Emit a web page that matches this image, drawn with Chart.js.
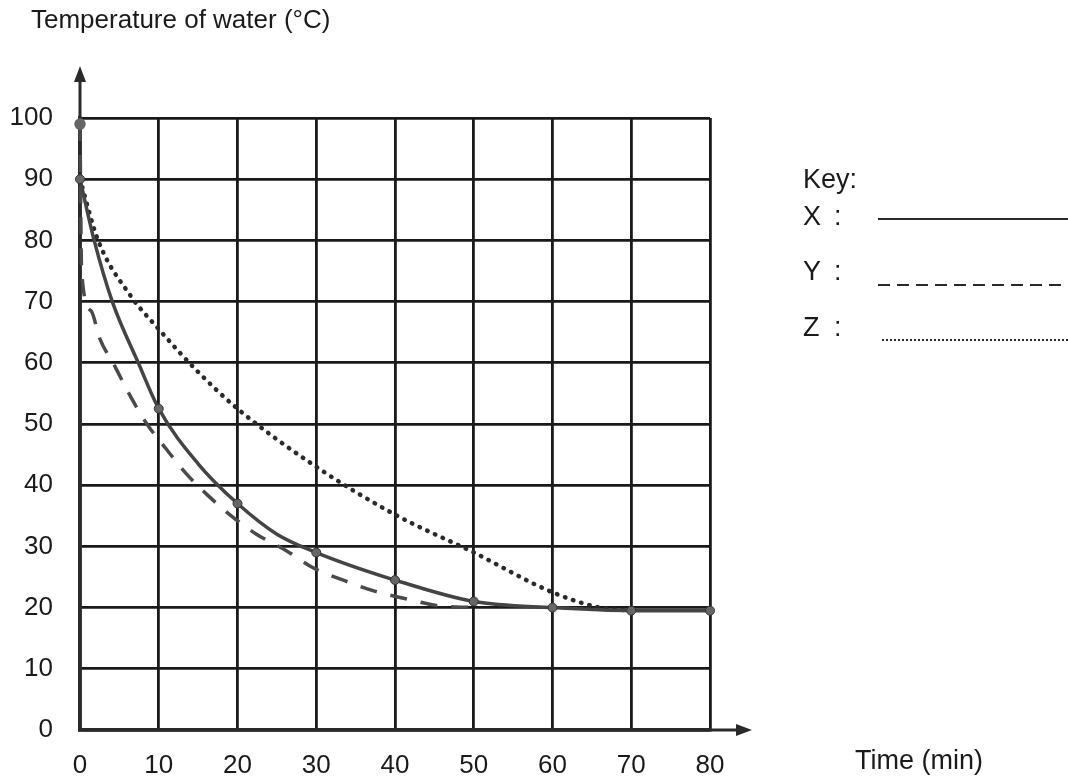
<!DOCTYPE html>
<html>
<head>
<meta charset="utf-8">
<script src="https://cdn.jsdelivr.net/npm/chart.js@4/dist/chart.umd.min.js"></script>
<style>
  body { margin: 0; background: #fff; }
  #wrap { width: 1068px; height: 781px; position: relative; }
</style>
</head>
<body>
<div id="wrap"><canvas id="graficoAgua"></canvas></div>
<script>
// time (min) and temperature (oC)
var tempoX = [0, 1.8, 4.1, 7.4, 10, 15, 20, 25, 30, 40, 50, 60, 70, 80]
var tempX = [90, 80, 70, 60, 52.5, 43.5, 37, 32, 29, 24.5, 21, 20, 19.5, 19.5]

var tempoY = [0, 0.2, 1.4, 2.5, 4.4, 6.2, 8.5, 10.9, 13.4, 16.1, 19.2, 22.4, 26.2, 29.6, 33.6, 37.4, 41.5, 45.5, 50]
var tempY = [99, 75, 68.5, 64, 59.5, 55, 50, 46, 42, 38.5, 35, 32, 29.3, 26.5, 24.4, 22.7, 21.4, 20.3, 20]

var tempoZ = [0, 2.3, 6.4, 10, 15, 20, 30, 40, 50, 60, 66, 70]
var tempZ = [90, 80, 71, 65.5, 58.5, 52.5, 43, 35.2, 29, 22.5, 20, 19.5]

var ticksTempo = [0, 10, 20, 30, 40, 50, 60, 70, 80]
var ticksTemp = [0, 10, 20, 30, 40, 50, 60, 70, 80, 90, 100]

var nomes = ['X', 'Y', 'Z']

var fonte = '"Liberation Sans", Arial, sans-serif'

function pontos(xs, ys) {
  return xs.map((x, i) => ({ x: x, y: ys[i] }))
}

// axis arrows, y caption, key and x caption
const extras = {
  id: 'extras',
  afterDraw(chart) {
    const ctx = chart.ctx
    const a = chart.chartArea
    ctx.save()
    ctx.strokeStyle = '#2a2a2a'
    ctx.fillStyle = '#2a2a2a'
    ctx.lineWidth = 3

    // y axis arrow
    ctx.beginPath()
    ctx.moveTo(a.left, a.top)
    ctx.lineTo(a.left, a.top - 40)
    ctx.stroke()
    ctx.beginPath()
    ctx.moveTo(a.left, a.top - 52)
    ctx.lineTo(a.left - 6, a.top - 36)
    ctx.lineTo(a.left + 6, a.top - 36)
    ctx.closePath()
    ctx.fill()

    // x axis arrow
    ctx.beginPath()
    ctx.moveTo(a.right, a.bottom)
    ctx.lineTo(a.right + 30, a.bottom)
    ctx.stroke()
    ctx.beginPath()
    ctx.moveTo(a.right + 42, a.bottom)
    ctx.lineTo(a.right + 26, a.bottom - 6)
    ctx.lineTo(a.right + 26, a.bottom + 6)
    ctx.closePath()
    ctx.fill()

    ctx.fillStyle = '#1a1a1a'
    ctx.textBaseline = 'middle'
    ctx.textAlign = 'left'
    ctx.font = '26px ' + fonte
    ctx.fillText('Temperature of water (\u00B0C)', 31, 21)
    ctx.font = '27px ' + fonte
    ctx.fillText('Time (min)', 855, 762)

    ctx.fillText('Key:', 803, 181)
    var linhasY = [219, 285, 340]
    var textoY = [218, 273, 329]
    chart.data.datasets.forEach((ds, i) => {
      ctx.fillStyle = '#1a1a1a'
      ctx.fillText(nomes[i], 803, textoY[i])
      ctx.fillText(':', 834, textoY[i])
      ctx.strokeStyle = '#2a2a2a'
      ctx.lineWidth = 2
      ctx.lineCap = 'butt'
      var dash = ds.borderDash || []
      if (i === 1) ctx.setLineDash([12, 7])
      else if (i === 2) ctx.setLineDash([2, 2])
      else ctx.setLineDash(dash)
      ctx.beginPath()
      ctx.moveTo(i === 2 ? 882 : 878, linhasY[i])
      ctx.lineTo(1068, linhasY[i])
      ctx.stroke()
    })
    ctx.restore()
  }
}

function createGrafico(ctx) {
  return new Chart(ctx, {
    type: 'line',
    data: {
      datasets: [{
        label: 'X',
        data: pontos(tempoX, tempX),
        borderColor: '#444',
        borderWidth: 3.5,
        cubicInterpolationMode: 'monotone',
        pointRadius: tempoX.map(t => t % 10 === 0 ? 4.5 : 0),
        pointBackgroundColor: '#666',
        pointBorderColor: '#333',
        pointBorderWidth: 1,
        clip: false
      }, {
        label: 'Y',
        data: pontos(tempoY, tempY),
        borderColor: '#4a4a4a',
        borderWidth: 3.5,
        borderDash: [17, 14],
        cubicInterpolationMode: 'monotone',
        pointRadius: tempoY.map((t, i) => i === 0 ? 4 : 0),
        pointBackgroundColor: '#666',
        pointBorderColor: '#666',
        clip: false
      }, {
        label: 'Z',
        data: pontos(tempoZ, tempZ),
        borderColor: '#2a2a2a',
        borderWidth: 4.5,
        borderDash: [0.5, 8],
        borderCapStyle: 'round',
        cubicInterpolationMode: 'monotone',
        pointRadius: 0,
        clip: false
      }]
    },
    options: {
      maintainAspectRatio: false,
      responsive: true,
      animation: false,
      layout: {
        padding: { top: 118, right: 358, left: 0, bottom: 0 }
      },
      plugins: {
        legend: { display: false },
        tooltip: { enabled: false }
      },
      scales: {
        x: {
          type: 'linear',
          min: 0,
          max: 80,
          afterBuildTicks: s => { s.ticks = ticksTempo.map(v => ({ value: v })) },
          afterFit: s => { s.height = 51 },
          grid: { color: '#1a1a1a', lineWidth: 2.8, drawTicks: false },
          border: { color: '#2a2a2a', width: 3.5 },
          ticks: { color: '#1a1a1a', padding: 20, maxRotation: 0, font: { family: fonte, size: 26 } }
        },
        y: {
          min: 0,
          max: 100,
          afterBuildTicks: s => { s.ticks = ticksTemp.map(v => ({ value: v })) },
          afterFit: s => { s.width = 80 },
          grid: { color: '#1a1a1a', lineWidth: 2.8, drawTicks: false },
          border: { color: '#2a2a2a', width: 3.5 },
          ticks: { color: '#1a1a1a', padding: 27, font: { family: fonte, size: 26 } }
        }
      }
    },
    plugins: [extras]
  })
}

var graficoAgua = createGrafico(document.getElementById('graficoAgua'))
</script>
</body>
</html>
